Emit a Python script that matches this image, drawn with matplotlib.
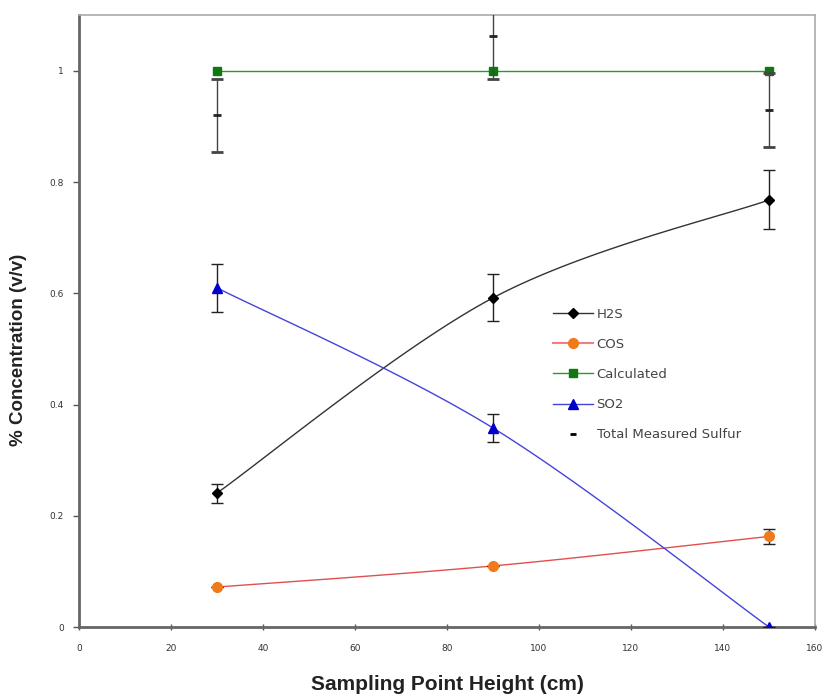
import numpy as np
import matplotlib
matplotlib.use("Agg")
import matplotlib.pyplot as plt

# ---- data ----
heights = [30, 90, 150]
h2s = [0.241, 0.592, 0.768]
h2s_err = [0.017, 0.042, 0.053]
cos = [0.072, 0.110, 0.163]
cos_err = [0.0, 0.0, 0.014]
calculated = [1.0, 1.0, 1.0]
so2 = [0.610, 0.358, 0.0]
so2_err = [0.043, 0.025, 0.0]
total_sulfur = [0.920, 1.062, 0.930]
total_err = [0.065, 0.076, 0.066]

x_ticks = [0, 20, 40, 60, 80, 100, 120, 140, 160]
y_ticks = [0, 0.2, 0.4, 0.6, 0.8, 1.0]
y_ticklabels = ["0", "0.2", "0.4", "0.6", "0.8", "1"]


def smooth(xs, ys, n=40):
    """Excel-style smoothed line (cubic Bezier through the points)."""
    P = np.column_stack([xs, ys]).astype(float)
    m = len(P)
    out = []
    for i in range(m - 1):
        p0 = P[i]
        p1 = P[i + 1]
        pm = P[i - 1] if i > 0 else P[i]
        pp = P[i + 2] if i + 2 < m else P[i + 1]
        c1 = p0 + (p1 - pm) / 6.0
        c2 = p1 - (pp - p0) / 6.0
        t = np.linspace(0, 1, n)[:, None]
        seg = ((1 - t) ** 3) * p0 + 3 * ((1 - t) ** 2) * t * c1 + 3 * (1 - t) * t ** 2 * c2 + t ** 3 * p1
        out.append(seg if i == 0 else seg[1:])
    s = np.vstack(out)
    return s[:, 0], s[:, 1]


fig = plt.figure(figsize=(8.27, 6.96), dpi=100)
ax = fig.add_axes([0.0955, 0.099, 0.89, 0.879])

# H2S
sx, sy = smooth(heights, h2s)
ax.plot(sx, sy, color="#333333", lw=1.0, zorder=3)
ax.errorbar(heights, h2s, yerr=h2s_err, fmt="D", color="black", ms=5,
            ecolor="#222222", elinewidth=1.0, capsize=4, zorder=4)
h2s_handle, = ax.plot([], [], color="#333333", lw=1.0, marker="D", mfc="black",
                      mec="black", ms=5)

# COS
sx, sy = smooth(heights, cos)
ax.plot(sx, sy, color="#e05050", lw=1.0, zorder=3)
ax.errorbar(heights, cos, yerr=cos_err, fmt="o", color="#f07a1a", ms=7,
            ecolor="#222222", elinewidth=1.0, capsize=4, zorder=4)
cos_handle, = ax.plot([], [], color="#f08080", lw=1.5, marker="o", mfc="#f07a1a",
                      mec="#f07a1a", ms=7)

# Calculated
calc_handle, = ax.plot(heights, calculated, color="#2a9a2a", lw=1.0, marker="s",
                       mfc="#117711", mec="#117711", ms=6, zorder=3)

# SO2
sx, sy = smooth(heights, so2)
ax.plot(sx, sy, color="#4444dd", lw=1.0, zorder=3)
ax.errorbar(heights, so2, yerr=so2_err, fmt="^", color="#0000cc", ms=7,
            ecolor="#222222", elinewidth=1.0, capsize=4, zorder=4)
so2_handle, = ax.plot([], [], color="#4444dd", lw=1.0, marker="^", mfc="#0000cc",
                      mec="#0000cc", ms=7)

# Total measured sulfur
ax.errorbar(heights, total_sulfur, yerr=total_err, fmt="_", color="#222222", ms=6,
            mew=2, ecolor="#444444", elinewidth=1.0, capsize=4, zorder=4)
tot_handle, = ax.plot([], [], ls="none", marker="_", color="black", ms=5, mew=2)

ax.set_xlim(0, 160)
ax.set_ylim(0, 1.1)
ax.set_xticks(x_ticks)
ax.set_xticklabels([str(v) for v in x_ticks])
ax.set_yticks(y_ticks)
ax.set_yticklabels(y_ticklabels)
ax.tick_params(axis="both", labelsize=6.5, colors="#555555", length=4, width=1,
               labelcolor="#333333")
ax.tick_params(axis="x", direction="inout", pad=10)
ax.tick_params(axis="y", direction="out", pad=7)

for side in ["left", "bottom"]:
    ax.spines[side].set_color("#666666")
    ax.spines[side].set_linewidth(2.0)
for side in ["top", "right"]:
    ax.spines[side].set_color("#aaaaaa")
    ax.spines[side].set_linewidth(1.2)

label_font = ["Liberation Sans", "DejaVu Sans"]
fig.text(447 / 827, 1 - 685 / 696, "Sampling Point Height (cm)", fontsize=15,
         fontweight="bold", family=label_font, ha="center", va="center",
         color="#222222")
fig.text(19 / 827, 1 - 350 / 696, "% Concentration (v/v)", fontsize=13.5,
         fontweight="bold", family=label_font, ha="center", va="center",
         rotation=90, color="#222222")

leg = ax.legend([h2s_handle, cos_handle, calc_handle, so2_handle, tot_handle],
                ["H2S", "COS", "Calculated", "SO2", "Total Measured Sulfur"],
                loc="upper left", bbox_to_anchor=(0.644, 0.522), frameon=False,
                fontsize=9.5, handlelength=3.0, labelspacing=1.3, handletextpad=0.3,
                borderpad=0, borderaxespad=0)
for t in leg.get_texts():
    t.set_color("#444444")

fig.savefig("out.png", dpi=100)
